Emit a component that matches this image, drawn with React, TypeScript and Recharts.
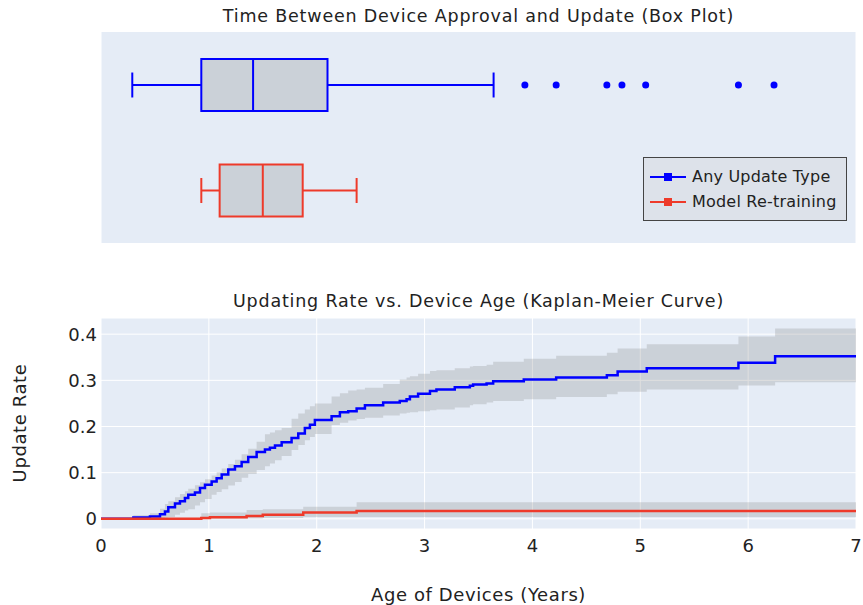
import React from 'react'
import { ComposedChart, Bar, Line, Area, XAxis, YAxis, CartesianGrid, Legend } from 'recharts'

// box plot summary (years)
const boxNames = ['Any Update Type', 'Model Re-training']
const boxColors = ['#0000ff', '#ee3a2a']
const boxLow = [0.29, 0.93]
const boxQ1 = [0.93, 1.1]
const boxMedian = [1.41, 1.5]
const boxQ3 = [2.1, 1.87]
const boxHigh = [3.64, 2.37]
const anyOutliers = [3.93, 4.22, 4.69, 4.83, 5.05, 5.91, 6.24]

// Kaplan-Meier: any update type
const anyTime = [0, 0.3, 0.454, 0.547, 0.593, 0.624, 0.686, 0.732, 0.778, 0.809, 0.871, 0.918, 0.964, 1.026, 1.072, 1.119, 1.18, 1.242, 1.304, 1.365, 1.443, 1.52, 1.566, 1.613, 1.675, 1.767, 1.829, 1.89, 1.937, 1.983, 2.138, 2.215, 2.292, 2.37, 2.447, 2.616, 2.77, 2.833, 2.864, 2.94, 3.05, 3.11, 3.28, 3.42, 3.45, 3.575, 3.636, 3.92, 4.22, 4.69, 4.79, 5.06, 5.91, 6.25, 7]
const anyRate = [0, 0.003, 0.005, 0.01, 0.016, 0.025, 0.033, 0.038, 0.045, 0.052, 0.057, 0.067, 0.074, 0.081, 0.088, 0.096, 0.107, 0.114, 0.123, 0.134, 0.145, 0.15, 0.154, 0.159, 0.166, 0.175, 0.185, 0.197, 0.204, 0.214, 0.222, 0.231, 0.233, 0.239, 0.246, 0.252, 0.255, 0.259, 0.265, 0.271, 0.277, 0.28, 0.285, 0.288, 0.291, 0.293, 0.298, 0.302, 0.306, 0.311, 0.319, 0.326, 0.338, 0.352, 0.352]
const anyLow = [0, 0, 0, 0.001, 0.003, 0.004, 0.009, 0.013, 0.018, 0.021, 0.029, 0.036, 0.043, 0.052, 0.058, 0.064, 0.072, 0.08, 0.089, 0.097, 0.106, 0.114, 0.12, 0.127, 0.136, 0.149, 0.16, 0.17, 0.177, 0.184, 0.203, 0.208, 0.213, 0.216, 0.219, 0.224, 0.228, 0.23, 0.231, 0.233, 0.235, 0.237, 0.241, 0.246, 0.248, 0.252, 0.255, 0.259, 0.264, 0.27, 0.275, 0.28, 0.289, 0.296, 0.296]
const anyHigh = [0, 0.008, 0.012, 0.022, 0.032, 0.038, 0.047, 0.054, 0.06, 0.065, 0.073, 0.079, 0.086, 0.094, 0.101, 0.109, 0.119, 0.128, 0.14, 0.152, 0.167, 0.183, 0.187, 0.192, 0.197, 0.217, 0.228, 0.237, 0.244, 0.25, 0.265, 0.272, 0.278, 0.28, 0.284, 0.292, 0.302, 0.306, 0.309, 0.314, 0.32, 0.322, 0.326, 0.33, 0.331, 0.334, 0.34, 0.347, 0.353, 0.36, 0.369, 0.378, 0.395, 0.412, 0.412]

// Kaplan-Meier: model re-training
const retrainTime = [0, 0.93, 1.01, 1.35, 1.5, 1.875, 2.37, 7]
const retrainRate = [0, 0.002, 0.0035, 0.006, 0.009, 0.014, 0.017, 0.017]
const retrainLow = [0, 0, 0, 0.001, 0.002, 0.004, 0.004, 0.004]
const retrainHigh = [0, 0.012, 0.014, 0.019, 0.021, 0.026, 0.036, 0.036]

const xTicks = [0, 1, 2, 3, 4, 5, 6, 7]
const yTicks = [0, 0.1, 0.2, 0.3, 0.4]

const FONT = '"DejaVu Sans", Verdana, sans-serif'
const TEXT = '#222'
const PLOT_BG = '#e5ecf6'
const BAND = '#808080'

const boxData = boxNames.map((name, i) => ({
  name,
  range: [boxQ1[i], boxQ3[i]],
  low: boxLow[i],
  q1: boxQ1[i],
  median: boxMedian[i],
  q3: boxQ3[i],
  high: boxHigh[i],
  color: boxColors[i],
  outliers: i === 0 ? anyOutliers : [],
}))

const anyData = anyTime.map((t, i) => ({ t, rate: anyRate[i], band: [anyLow[i], anyHigh[i]] }))
const retrainData = retrainTime.map((t, i) => ({ t, rate: retrainRate[i], band: [retrainLow[i], retrainHigh[i]] }))

function BoxShape(props: any) {
  const { x, y, width, height, payload } = props
  const unit = width / (payload.q3 - payload.q1)
  const px = (v: number) => x + (v - payload.q1) * unit
  const cy = y + height / 2
  const cap = height * 0.24
  const c = payload.color
  return (
    <g>
      <line x1={px(payload.low)} x2={x} y1={cy} y2={cy} stroke={c} strokeWidth={2} />
      <line x1={x + width} x2={px(payload.high)} y1={cy} y2={cy} stroke={c} strokeWidth={2} />
      <line x1={px(payload.low)} x2={px(payload.low)} y1={cy - cap} y2={cy + cap} stroke={c} strokeWidth={2} />
      <line x1={px(payload.high)} x2={px(payload.high)} y1={cy - cap} y2={cy + cap} stroke={c} strokeWidth={2} />
      <rect x={x} y={y} width={width} height={height} fill={BAND} fillOpacity={0.25} stroke={c} strokeWidth={2} />
      <line x1={px(payload.median)} x2={px(payload.median)} y1={y} y2={y + height} stroke={c} strokeWidth={2} />
      {payload.outliers.map((o: number) => (
        <circle key={o} cx={px(o)} cy={cy} r={3.5} fill={c} />
      ))}
    </g>
  )
}

const renderLegend = () => (
  <div
    style={{
      boxSizing: 'border-box',
      width: 204,
      height: 64,
      background: '#dde2ea',
      border: '1px solid #444',
      padding: '6px 6px',
      fontFamily: FONT,
      fontSize: 16,
      letterSpacing: 0.2,
      color: TEXT,
    }}
  >
    {boxNames.map((n, i) => (
      <div key={n} style={{ display: 'flex', alignItems: 'center', height: 25 }}>
        <svg width={36} height={12}>
          <line x1={0} x2={36} y1={6} y2={6} stroke={boxColors[i]} strokeWidth={2} />
          <rect x={14} y={2} width={8} height={8} fill={boxColors[i]} />
        </svg>
        <span style={{ marginLeft: 6, whiteSpace: 'nowrap' }}>{n}</span>
      </div>
    ))}
  </div>
)

const titleStyle: React.CSSProperties = {
  position: 'absolute',
  left: 101,
  width: 755,
  textAlign: 'center',
  fontFamily: FONT,
  fontSize: 17.5,
  letterSpacing: 0.8,
  color: TEXT,
  lineHeight: '20px',
  whiteSpace: 'nowrap',
}

export default function App() {
  return (
    <div style={{ position: 'absolute', left: 0, top: 0, width: 863, height: 605, background: '#fff' }}>
      <div style={{ ...titleStyle, top: 6 }}>Time Between Device Approval and Update (Box Plot)</div>
      <div style={{ position: 'absolute', left: 0, top: 0 }}>
        <ComposedChart
          width={863}
          height={250}
          data={boxData}
          layout="vertical"
          margin={{ top: 32, right: 7, bottom: 7, left: 101 }}
        >
          <CartesianGrid fill={PLOT_BG} stroke="#fff" horizontal={false} />
          <XAxis type="number" domain={[0, 7]} ticks={xTicks} height={0} tick={false} axisLine={false} tickLine={false} />
          <YAxis type="category" dataKey="name" hide />
          <Bar dataKey="range" barSize={52} shape={<BoxShape />} isAnimationActive={false} />
          <Legend
            layout="horizontal"
            verticalAlign="middle"
            align="center"
            content={renderLegend}
            wrapperStyle={{ position: 'absolute', left: 643, top: 157, width: 204, height: 64 }}
          />
        </ComposedChart>
      </div>
      <div style={{ ...titleStyle, top: 291 }}>Updating Rate vs. Device Age (Kaplan-Meier Curve)</div>
      <div style={{ position: 'absolute', left: 0, top: 250 }}>
        <ComposedChart width={863} height={355} margin={{ top: 68, right: 7, bottom: 46, left: 0 }}>
          <CartesianGrid fill={PLOT_BG} stroke="#fff" />
          <XAxis
            dataKey="t"
            type="number"
            domain={[0, 7]}
            ticks={xTicks}
            height={30}
            axisLine={false}
            tickLine={false}
            tickSize={0}
            tickMargin={10}
            tick={{ fontFamily: FONT, fontSize: 18, fill: TEXT }}
            allowDuplicatedCategory={false}
          />
          <YAxis
            type="number"
            domain={[-0.022, 0.435]}
            ticks={yTicks}
            width={101}
            axisLine={false}
            tickLine={false}
            tickSize={0}
            tickMargin={4}
            tickFormatter={(v: number) => (v === 0 ? '0' : v.toFixed(1))}
            tick={{ fontFamily: FONT, fontSize: 18, fill: TEXT }}
          />
          <Area data={anyData} dataKey="band" type="stepAfter" stroke="none" fill={BAND} fillOpacity={0.25} isAnimationActive={false} />
          <Area data={retrainData} dataKey="band" type="stepAfter" stroke="none" fill={BAND} fillOpacity={0.25} isAnimationActive={false} />
          <Line data={anyData} dataKey="rate" type="stepAfter" stroke={boxColors[0]} strokeWidth={2.5} dot={false} isAnimationActive={false} />
          <Line data={retrainData} dataKey="rate" type="stepAfter" stroke={boxColors[1]} strokeWidth={2.5} dot={false} isAnimationActive={false} />
        </ComposedChart>
      </div>
      <div
        style={{
          position: 'absolute',
          left: 101,
          width: 755,
          top: 584,
          textAlign: 'center',
          fontFamily: FONT,
          fontSize: 18,
          letterSpacing: 0.6,
          color: TEXT,
          lineHeight: '22px',
          whiteSpace: 'nowrap',
        }}
      >
        Age of Devices (Years)
      </div>
      <div
        style={{
          position: 'absolute',
          left: 20,
          top: 423,
          transform: 'translate(-50%, -50%) rotate(-90deg)',
          whiteSpace: 'nowrap',
          fontFamily: FONT,
          fontSize: 18,
          letterSpacing: 0.6,
          color: TEXT,
          lineHeight: '22px',
        }}
      >
        Update Rate
      </div>
    </div>
  )
}
